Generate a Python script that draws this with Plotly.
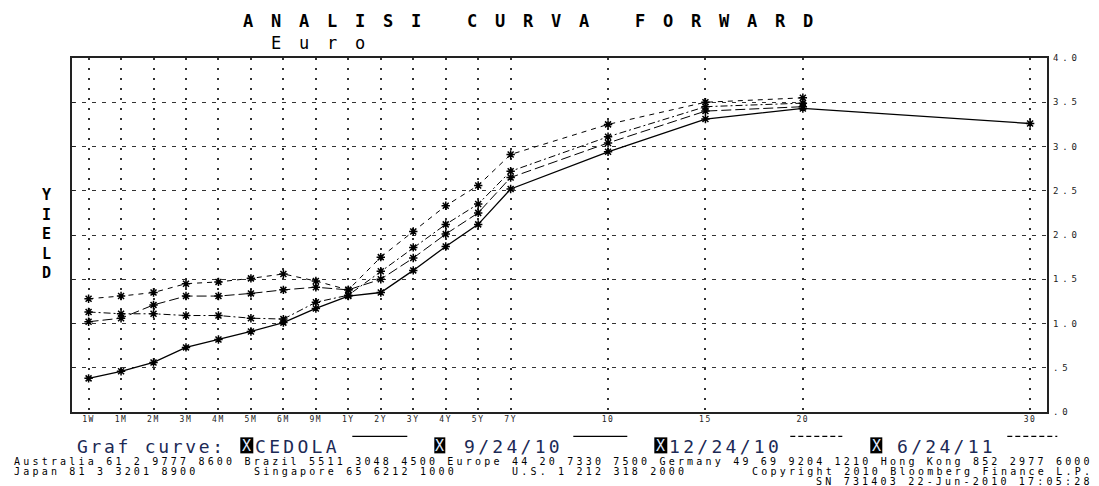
import plotly.graph_objects as go

# ---------------- data ----------------
tenors = ["1W", "1M", "2M", "3M", "4M", "5M", "6M", "9M", "1Y", "2Y", "3Y", "4Y", "5Y", "7Y", "10", "15", "20", "30"]
tenor_slot = [0, 1, 2, 3, 4, 5, 6, 7, 8, 9, 10, 11, 12, 13, 16, 19, 22, 29]

cedola = [0.38, 0.46, 0.56, 0.73, 0.82, 0.91, 1.01, 1.17, 1.31, 1.35, 1.60, 1.87, 2.12, 2.52, 2.94, 3.31, 3.43, 3.26]
fwd_092410 = [1.02, 1.06, 1.21, 1.31, 1.31, 1.34, 1.38, 1.41, 1.38, 1.50, 1.74, 2.01, 2.25, 2.65, 3.04, 3.40, 3.45]
fwd_122410 = [1.13, 1.11, 1.11, 1.09, 1.09, 1.06, 1.05, 1.24, 1.32, 1.59, 1.86, 2.12, 2.35, 2.72, 3.11, 3.45, 3.49]
fwd_062411 = [1.28, 1.31, 1.35, 1.45, 1.47, 1.51, 1.56, 1.48, 1.38, 1.75, 2.04, 2.33, 2.56, 2.91, 3.25, 3.50, 3.55]

series_names = ["CEDOLA", "9/24/10", "12/24/10", "6/24/11"]
y_ticks = [0, 0.5, 1.0, 1.5, 2.0, 2.5, 3.0, 3.5, 4.0]
y_ticktext = [".0", ".5", "1.0", "1.5", "2.0", "2.5", "3.0", "3.5", "4.0"]

# ---------------- layout geometry (pixels) ----------------
W_FIG, H_FIG = 1099, 486
L, R, T, B = 71.7, 1046.7, 58.3, 411.7
PW, PH = R - L, B - T


def px(x):
    return (x - L) / PW


def py(y):
    return (B - y) / PH


def spaced(text, s):
    return f'<span style="letter-spacing:{s}px">{text}</span>'


MONO = "DejaVu Sans Mono"
NAVY = "#1c2a55"

fig = go.Figure()

styles = [
    dict(data=cedola, dash="solid", width=1.3),
    dict(data=fwd_092410, dash="10px,4px", width=1.0),
    dict(data=fwd_122410, dash="7px,3px,2px,3px", width=1.0),
    dict(data=fwd_062411, dash="5px,5px", width=1.0),
]
for name, st in zip(series_names, styles):
    vals = st["data"]
    fig.add_trace(go.Scatter(
        x=tenor_slot[:len(vals)], y=vals, name=name, mode="lines+markers",
        line=dict(color="black", width=st["width"], dash=st["dash"]),
        marker=dict(symbol="asterisk-open", size=7, color="black",
                    line=dict(color="black", width=1.5)),
        showlegend=False, cliponaxis=False,
    ))

# invisible trace on the right-hand y axis so it renders
fig.add_trace(go.Scatter(x=[tenor_slot[0]], y=[0], yaxis="y2", mode="markers",
                         marker=dict(opacity=0), showlegend=False, hoverinfo="skip"))

fig.update_layout(
    width=W_FIG, height=H_FIG,
    margin=dict(l=L, r=W_FIG - R, t=T, b=H_FIG - B, pad=0),
    paper_bgcolor="white", plot_bgcolor="white",
    font=dict(family=MONO, color="black"),
    xaxis=dict(
        range=[-0.511, 29.52], tickvals=tenor_slot,
        ticktext=[spaced(t, 1.6) for t in tenors],
        tickfont=dict(family=MONO, size=8, color="#222"),
        showgrid=True, gridcolor="#333", griddash="2px,8px", gridwidth=1.5,
        showline=True, linecolor="#222", linewidth=1.5, mirror=True,
        ticks="", zeroline=False, ticklabelstandoff=-1,
    ),
    yaxis=dict(
        range=[0, 4.0], tickvals=y_ticks, showticklabels=False,
        ticks="inside", ticklen=3, tickcolor="#222",
        showgrid=True, gridcolor="#333", griddash="4px,6px", gridwidth=1,
        showline=True, linecolor="#222", linewidth=1.5, mirror=True,
        zeroline=False,
    ),
    yaxis2=dict(
        range=[0, 4.0], overlaying="y", side="right", tickvals=y_ticks,
        ticktext=[spaced(t, 3.8) for t in y_ticktext],
        tickfont=dict(family=MONO, size=9, color="#222"),
        showgrid=False, zeroline=False, showline=False, ticks="",
        ticklabelstandoff=5,
    ),
)

ann = []


def add_text(text, x, y, size, color="black", bold=False, xanchor="left", yanchor="middle", **kw):
    if bold:
        text = f"<b>{text}</b>"
    ann.append(dict(text=text, x=px(x), y=py(y), xref="paper", yref="paper",
                    xanchor=xanchor, yanchor=yanchor, showarrow=False,
                    font=dict(family=MONO, size=size, color=color), **kw))


# title + subtitle in one block (two lines)
TS = 17
TLS = 28.0 - 0.602 * TS
add_text(spaced("<b>ANALISI CURVA FORWARD</b><br>\u00a0Euro", round(TLS, 2)), 241, 32, TS, align="left")

# y label
add_text("Y<br>I<br>E<br>L<br>D", 46, 234, 15, bold=True, xanchor="center", align="center")

# legend row
LEG_Y = 446
add_text(spaced("Graf curve:", 2.7), 75, LEG_Y, 18, color=NAVY)
legend_items = [
    # box x0, box x1, label x, label, line x0, x1, line dash
    (240, 253, 253, series_names[0], 352, 407, "solid"),
    (434, 445, 462, series_names[1], 573, 627, "solid"),
    (654, 667, 667, series_names[2], 790, 842, "5px,3px"),
    (870, 882, 895, series_names[3], 1007, 1057, "5px,3px"),
]
shapes = []
for bx0, bx1, lx, lab, lx0, lx1, ldash in legend_items:
    shapes.append(dict(type="rect", xref="paper", yref="paper",
                       x0=px(bx0), x1=px(bx1), y0=py(453), y1=py(437),
                       fillcolor="black", line=dict(width=0)))
    add_text("X", (bx0 + bx1) / 2, 445.5, 15, color="#dfe9ff", xanchor="center")
    add_text(spaced(lab, 3.3), lx, LEG_Y, 18, color=NAVY)
    shapes.append(dict(type="line", xref="paper", yref="paper",
                       x0=px(lx0), x1=px(lx1), y0=py(436), y1=py(436),
                       line=dict(color="black", width=1.2, dash=ldash)))

# footer (monospace columns)
FX0, PITCH = 12, 9.22
FLS = PITCH - 0.602 * 10
footer = [
    (461.5, 0, "Australia 61 2 9777 8600 Brazil 5511 3048 4500 Europe 44 20 7330 7500 Germany 49 69 9204 1210 Hong Kong 852 2977 6000"),
    (471.5, 0, "Japan 81 3 3201 8900"),
    (471.5, 26, "Singapore 65 6212 1000"),
    (471.5, 54, "U.S. 1 212 318 2000"),
    (471.5, 80, "Copyright 2010 Bloomberg Finance L.P."),
    (481.0, 87, "SN 731403 22-Jun-2010 17:05:28"),
]
for yy, col, txt in footer:
    add_text(spaced(txt, round(FLS, 2)), FX0 + col * PITCH, yy, 10)

fig.update_layout(annotations=ann, shapes=shapes)
fig.write_html(
    "out.html",
    config={"displayModeBar": False},
    post_script="document.body.style.margin='0px';document.body.style.padding='0px';"
                "document.body.style.overflow='hidden';",
)
